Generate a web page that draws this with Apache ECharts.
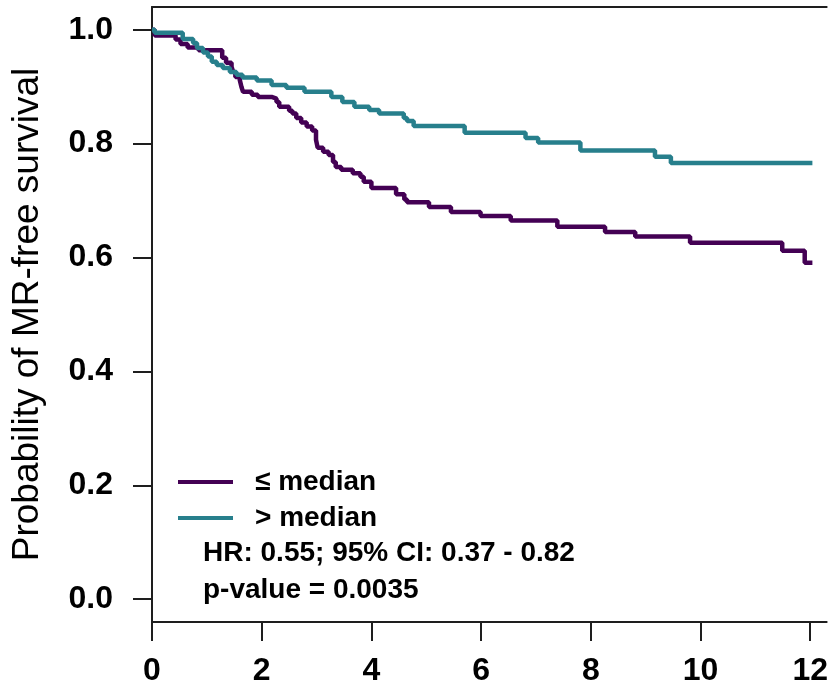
<!DOCTYPE html>
<html>
<head>
<meta charset="utf-8">
<script src="https://cdn.jsdelivr.net/npm/echarts@6/dist/echarts.min.js"></script>
<style>
  html, body { margin: 0; padding: 0; background: #ffffff; }
  #chart { width: 831px; height: 696px; }
</style>
</head>
<body>
<div id="chart"></div>
<script>
// ---- data ----
const xTicks = [0, 2, 4, 6, 8, 10, 12];
const yTicks = [0, 0.2, 0.4, 0.6, 0.8, 1.0];

const seriesNames = ['\u2264 median', '> median'];

// "≤ median" group: Kaplan-Meier steps (time, survival)
const lowTimes = [0, 0.05, 0.43, 0.52, 0.65, 0.85, 1.28, 1.35, 1.45, 1.48, 1.52,
  1.60, 1.63, 1.66, 1.82, 1.93, 2.18, 2.27, 2.32, 2.50, 2.56,
  2.63, 2.72, 2.82, 2.92, 2.99, 3.02, 3.12, 3.22, 3.30, 3.35,
  3.45, 3.66, 3.80, 3.86, 4.00, 4.45, 4.60, 4.65, 5.05, 5.45,
  5.99, 6.54, 7.39, 8.26, 8.81, 9.81, 11.49, 11.90, 12.04];
const lowSurv = [1.000, 0.990, 0.983, 0.975, 0.969, 0.964, 0.951, 0.942, 0.935, 0.926, 0.917,
  0.912, 0.900, 0.891, 0.886, 0.882, 0.879, 0.873, 0.865, 0.858, 0.853,
  0.845, 0.837, 0.830, 0.823, 0.807, 0.793, 0.786, 0.780, 0.768, 0.759,
  0.754, 0.748, 0.742, 0.733, 0.722, 0.711, 0.702, 0.697, 0.689, 0.680,
  0.673, 0.665, 0.654, 0.645, 0.637, 0.626, 0.612, 0.591, 0.591];

// "> median" group
const highTimes = [0, 0.05, 0.56, 0.75, 0.82, 0.93, 1.02, 1.09, 1.18, 1.29,
  1.42, 1.54, 1.65, 1.91, 2.18, 2.45, 2.78, 3.27, 3.47, 3.69,
  3.96, 4.14, 4.59, 4.65, 4.77, 5.70, 6.81, 7.04, 7.81, 9.17,
  9.46, 12.04];
const highSurv = [1.000, 0.995, 0.984, 0.977, 0.968, 0.960, 0.953, 0.944, 0.938, 0.933,
  0.926, 0.921, 0.916, 0.911, 0.903, 0.898, 0.891, 0.882, 0.873, 0.865,
  0.859, 0.853, 0.845, 0.840, 0.831, 0.819, 0.810, 0.802, 0.788, 0.777,
  0.766, 0.766];

const statLines = ['HR: 0.55; 95% CI: 0.37 - 0.82', 'p-value = 0.0035'];
const yTitle = 'Probability of MR-free survival';

// ---- chart ----
const pairs = (xs, ys) => xs.map((x, i) => [x, ys[i]]);
const colLow = '#440154';
const colHigh = '#277F8C';
const axisCol = '#1e1e1e';
const font = '"Liberation Sans", Arial, sans-serif';

const chart = echarts.init(document.getElementById('chart'), null, { renderer: 'canvas' });
chart.setOption({
  animation: false,
  backgroundColor: '#ffffff',
  grid: { left: 152, top: 7, right: 0, bottom: 74, show: false },
  xAxis: [
    {
      type: 'value', min: 0, max: 12.3,
      axisLine: { show: true, onZero: false, lineStyle: { color: axisCol, width: 2 } },
      axisTick: { show: true, length: 19, lineStyle: { color: axisCol, width: 2 }, customValues: xTicks },
      axisLabel: { customValues: xTicks, margin: 33, color: '#000', fontFamily: font, fontWeight: 'bold', fontSize: 32 },
      splitLine: { show: false }
    },
    {
      type: 'value', min: 0, max: 12.3, position: 'top',
      axisLine: { show: true, onZero: false, lineStyle: { color: axisCol, width: 2 } },
      axisTick: { show: false }, axisLabel: { show: false }, splitLine: { show: false }
    }
  ],
  yAxis: {
    type: 'value', min: -0.04, max: 1.04,
    name: yTitle, nameLocation: 'middle', nameGap: 106,
    nameTextStyle: { color: '#000', fontFamily: font, fontSize: 37, fontWeight: 'normal' },
    axisLine: { show: true, onZero: false, lineStyle: { color: axisCol, width: 2 } },
    axisTick: { show: true, length: 19, lineStyle: { color: axisCol, width: 2 }, customValues: yTicks },
    axisLabel: {
      customValues: yTicks, margin: 39, color: '#000', fontFamily: font, fontWeight: 'bold', fontSize: 32,
      formatter: v => v.toFixed(1)
    },
    splitLine: { show: false }
  },
  legend: {
    orient: 'vertical', left: 178, top: 468, padding: 0,
    data: seriesNames,
    icon: 'rect', itemWidth: 55, itemHeight: 4, itemGap: 8,
    textStyle: { color: '#000', fontFamily: font, fontWeight: 'bold', fontSize: 28, padding: [0, 0, 0, 17] }
  },
  graphic: [
    { type: 'text', left: 203, top: 539, style: { text: statLines[0], fill: '#000', font: 'bold 28px ' + font } },
    { type: 'text', left: 203, top: 576, style: { text: statLines[1], fill: '#000', font: 'bold 28px ' + font } }
  ],
  series: [
    {
      name: seriesNames[0], type: 'line', step: 'end', showSymbol: false,
      data: pairs(lowTimes, lowSurv),
      lineStyle: { color: colLow, width: 4.5 }, itemStyle: { color: colLow }
    },
    {
      name: seriesNames[1], type: 'line', step: 'end', showSymbol: false,
      data: pairs(highTimes, highSurv),
      lineStyle: { color: colHigh, width: 4.5 }, itemStyle: { color: colHigh }
    }
  ]
});
</script>
</body>
</html>
